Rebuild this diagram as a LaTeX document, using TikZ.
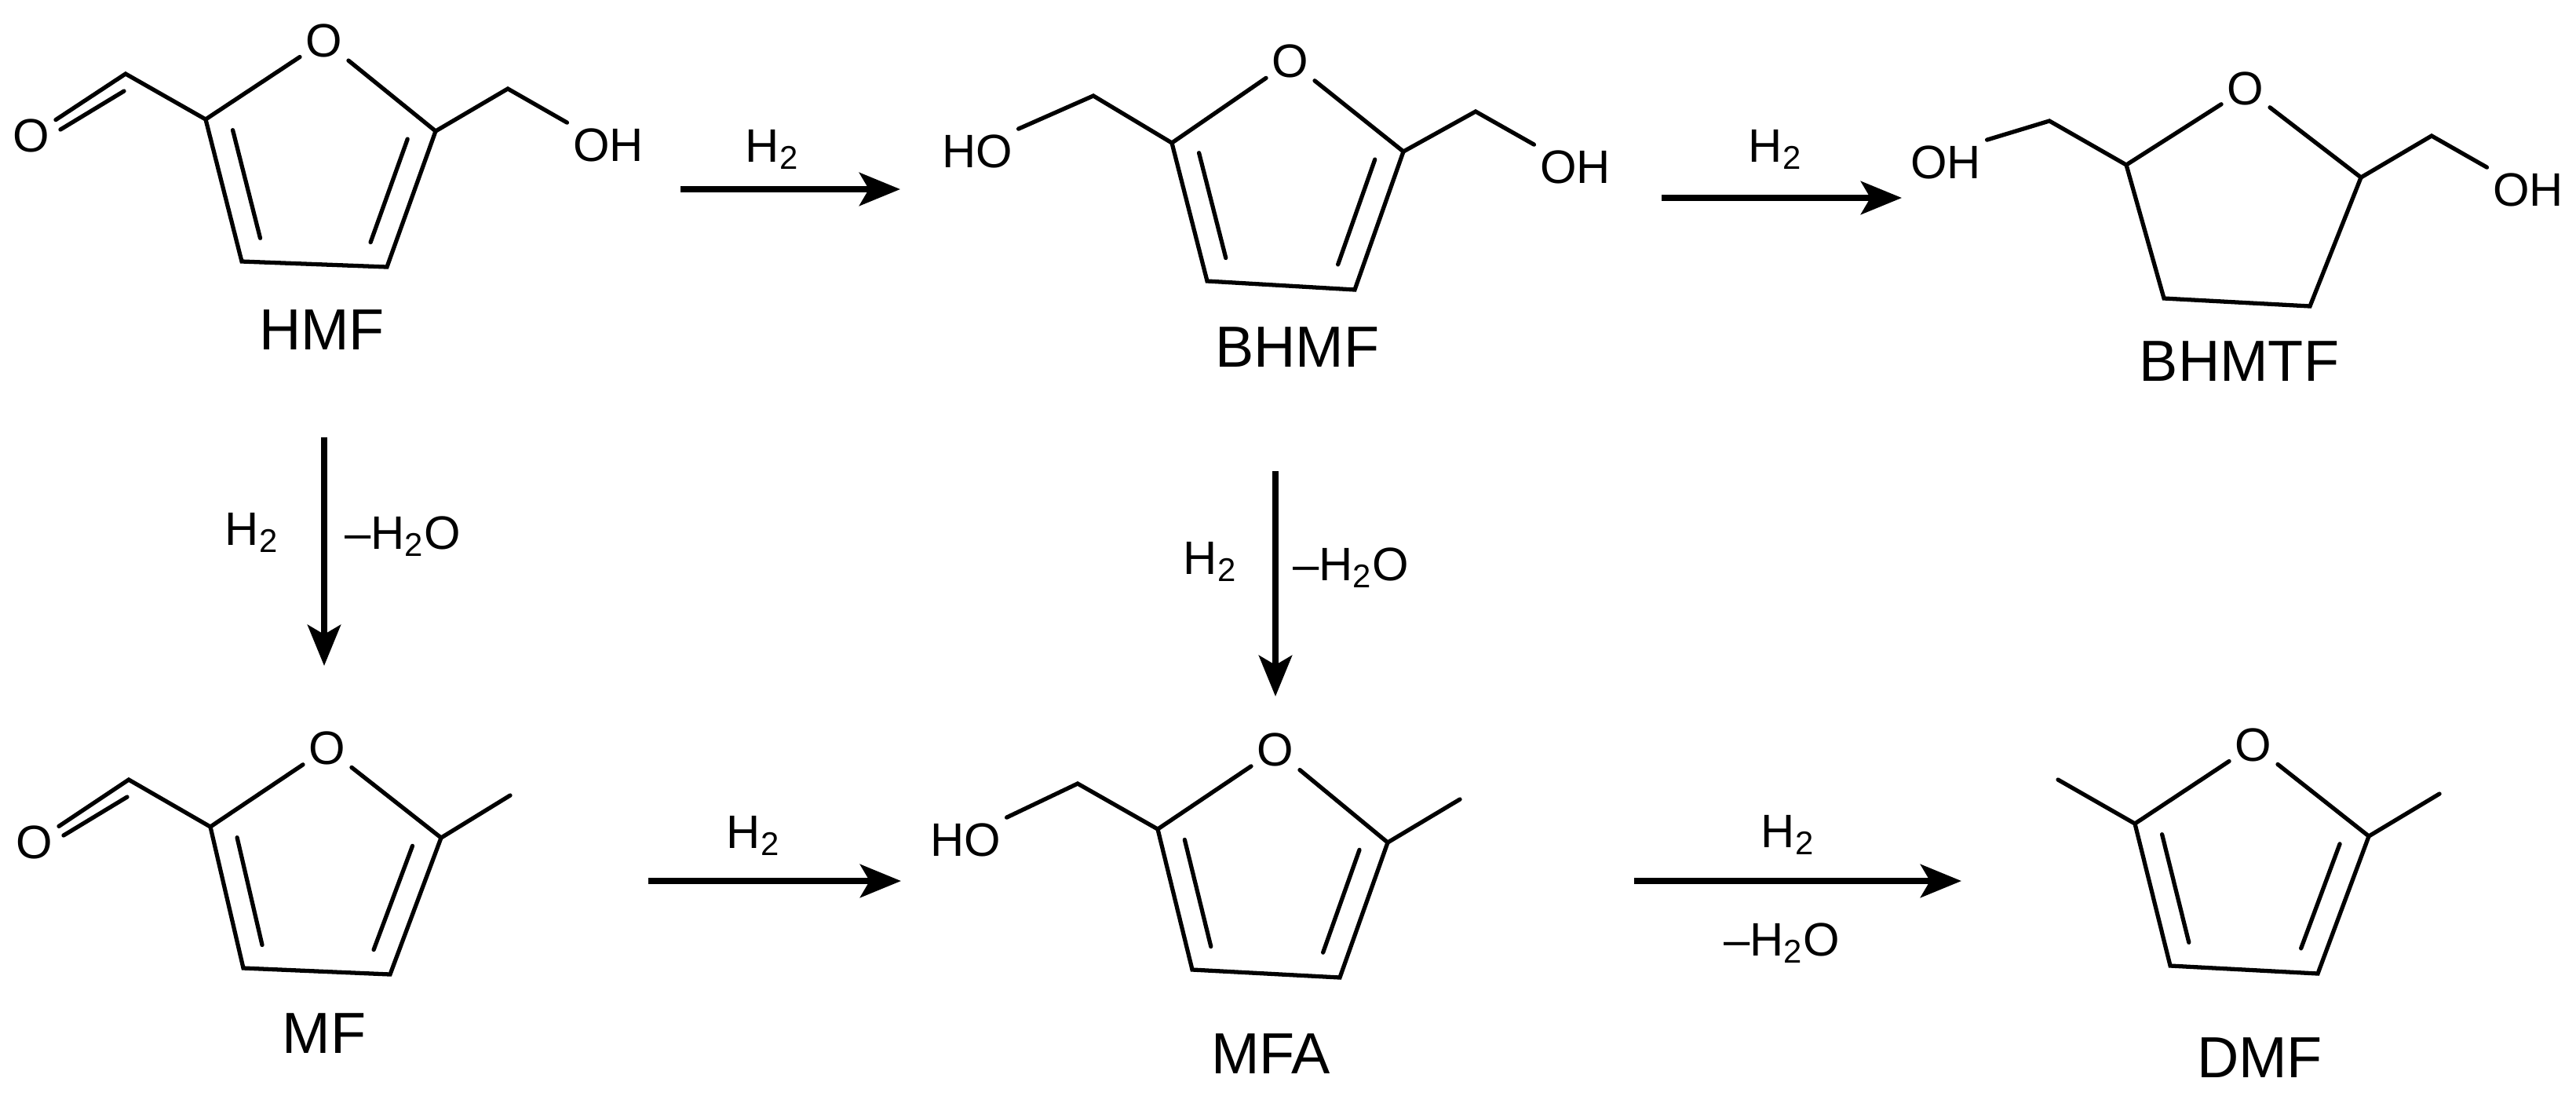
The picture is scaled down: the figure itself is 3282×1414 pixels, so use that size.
\documentclass[tikz,border=0pt]{standalone}
\usepackage{fontspec}
\setmainfont{Liberation Sans}
\usetikzlibrary{calc,arrows.meta}
\tikzset{
  bond/.style={line width=1.5pt, line cap=round},
  atom/.style={font=\fontsize{17}{17}\selectfont, inner sep=2pt},
  molname/.style={font=\fontsize{21}{21}\selectfont, inner sep=0pt},
  reag/.style={font=\fontsize{17}{17}\selectfont, inner sep=0pt},
  rxn/.style={line width=2.3pt, -{Stealth[length=0.52cm,width=0.42cm,inset=0.12cm]}}
}
\newcommand\inbond[3]{\draw[bond] ($(#1)!0.24!(#3)$) -- ($(#2)!0.24!(#3)$);}
\begin{document}
\begin{tikzpicture}[x=0.01cm,y=-0.01cm]
\useasboundingbox (0,0) rectangle (3282,1414);
% ---------- HMF ----------
\node[atom] (hO) at (413,52) {O};
\coordinate (h2) at (262,152); \coordinate (h3) at (308,333);
\coordinate (h4) at (493,340); \coordinate (h5) at (555,167);
\coordinate (hc) at (406,209);
\coordinate (hcho) at (160,94);
\node[atom] (hald) at (40,173) {O};
\coordinate (hch2) at (647,113);
\node[atom] (hoh) at (775,185) {OH};
\draw[bond] (hO) -- (h2) -- (h3) -- (h4) -- (h5) -- (hO);
\inbond{h2}{h3}{hc} \inbond{h4}{h5}{hc}
\draw[bond] (h2) -- (hcho) -- (hald);
\draw[bond] (77,165) -- (158,116);
\draw[bond] (h5) -- (hch2) -- (hoh.north west);
\node[molname] (hmf) at (410,420) {HMF};
% ---------- BHMF ----------
\node[atom] (bO) at (1644,78) {O};
\coordinate (b2) at (1493,182); \coordinate (b3) at (1538,358);
\coordinate (b4) at (1726,369); \coordinate (b5) at (1788,193);
\coordinate (bc) at (1637,235);
\coordinate (bch2l) at (1393,122); \node[atom] (bhol) at (1245,193) {HO};
\coordinate (bch2r) at (1880,142); \node[atom] (bohr) at (2007,213) {OH};
\draw[bond] (bO) -- (b2) -- (b3) -- (b4) -- (b5) -- (bO);
\inbond{b2}{b3}{bc} \inbond{b4}{b5}{bc}
\draw[bond] (b2) -- (bch2l) -- (bhol.north east);
\draw[bond] (b5) -- (bch2r) -- (bohr.north west);
\node[molname] (bhmf) at (1653,442) {BHMF};
% ---------- BHMTF ----------
\node[atom] (tO) at (2861,113) {O};
\coordinate (t2) at (2709,210); \coordinate (t3) at (2757,380);
\coordinate (t4) at (2943,390); \coordinate (t5) at (3008,226);
\coordinate (tch2l) at (2611,154); \node[atom] (tohl) at (2479,207) {OH};
\coordinate (tch2r) at (3098,173); \node[atom] (tohr) at (3221,242) {OH};
\draw[bond] (tO) -- (t2) -- (t3) -- (t4) -- (t5) -- (tO);
\draw[bond] (t2) -- (tch2l) -- (tohl.north east);
\draw[bond] (t5) -- (tch2r) -- (tohr.north west);
\node[molname] (bhmtf) at (2853,460) {BHMTF};
% ---------- MF ----------
\node[atom] (mO) at (417,953) {O};
\coordinate (m2) at (268,1053); \coordinate (m3) at (310,1233);
\coordinate (m4) at (497,1241); \coordinate (m5) at (562,1067);
\coordinate (mc) at (410,1110);
\coordinate (mcho) at (164,993);
\node[atom] (mald) at (44,1073) {O};
\coordinate (mme) at (650,1013);
\draw[bond] (mO) -- (m2) -- (m3) -- (m4) -- (m5) -- (mO);
\inbond{m2}{m3}{mc} \inbond{m4}{m5}{mc}
\draw[bond] (m2) -- (mcho) -- (mald);
\draw[bond] (81,1064) -- (162,1015);
\draw[bond] (m5) -- (mme);
\node[molname] (mf) at (413,1316) {MF};
% ---------- MFA ----------
\node[atom] (aO) at (1625,955) {O};
\coordinate (a2) at (1475,1056); \coordinate (a3) at (1519,1235);
\coordinate (a4) at (1707,1245); \coordinate (a5) at (1768,1073);
\coordinate (ac) at (1618,1112);
\coordinate (ach2) at (1373,998); \node[atom] (aho) at (1230,1070) {HO};
\coordinate (ame) at (1860,1018);
\draw[bond] (aO) -- (a2) -- (a3) -- (a4) -- (a5) -- (aO);
\inbond{a2}{a3}{ac} \inbond{a4}{a5}{ac}
\draw[bond] (a2) -- (ach2) -- (aho.north east);
\draw[bond] (a5) -- (ame);
\node[molname] (mfa) at (1619,1342) {MFA};
% ---------- DMF ----------
\node[atom] (dO) at (2871,949) {O};
\coordinate (d2) at (2720,1049); \coordinate (d3) at (2765,1230);
\coordinate (d4) at (2953,1240); \coordinate (d5) at (3018,1065);
\coordinate (dc) at (2864,1106);
\coordinate (dmel) at (2622,993); \coordinate (dmer) at (3108,1011);
\draw[bond] (dO) -- (d2) -- (d3) -- (d4) -- (d5) -- (dO);
\inbond{d2}{d3}{dc} \inbond{d4}{d5}{dc}
\draw[bond] (d2) -- (dmel); \draw[bond] (d5) -- (dmer);
\node[molname] (dmf) at (2879,1347) {DMF};
% ---------- arrows ----------
\coordinate (r1a) at (867,241); \coordinate (r1b) at (1147,241);
\draw[rxn] (r1a) -- (r1b);
\node[reag] (r1t) at (984,190) {H\textsubscript{2}};
\coordinate (r2a) at (2117,252); \coordinate (r2b) at (2423,252);
\draw[rxn] (r2a) -- (r2b);
\node[reag] (r2t) at (2262,190) {H\textsubscript{2}};
\coordinate (r3a) at (413,557); \coordinate (r3b) at (413,848);
\draw[rxn] (r3a) -- (r3b);
\node[reag] (r3l) at (321,678) {H\textsubscript{2}};
\node[reag] (r3r) at (513,683) {–H\textsubscript{2}O};
\coordinate (r4a) at (1625,600); \coordinate (r4b) at (1625,887);
\draw[rxn] (r4a) -- (r4b);
\node[reag] (r4l) at (1542,715) {H\textsubscript{2}};
\node[reag] (r4r) at (1721,723) {–H\textsubscript{2}O};
\coordinate (r5a) at (826,1122); \coordinate (r5b) at (1148,1122);
\draw[rxn] (r5a) -- (r5b);
\node[reag] (r5t) at (960,1064) {H\textsubscript{2}};
\coordinate (r6a) at (2082,1122); \coordinate (r6b) at (2499,1122);
\draw[rxn] (r6a) -- (r6b);
\node[reag] (r6t) at (2278,1063) {H\textsubscript{2}};
\node[reag] (r6b2) at (2270,1201) {–H\textsubscript{2}O};
\end{tikzpicture}
\end{document}
